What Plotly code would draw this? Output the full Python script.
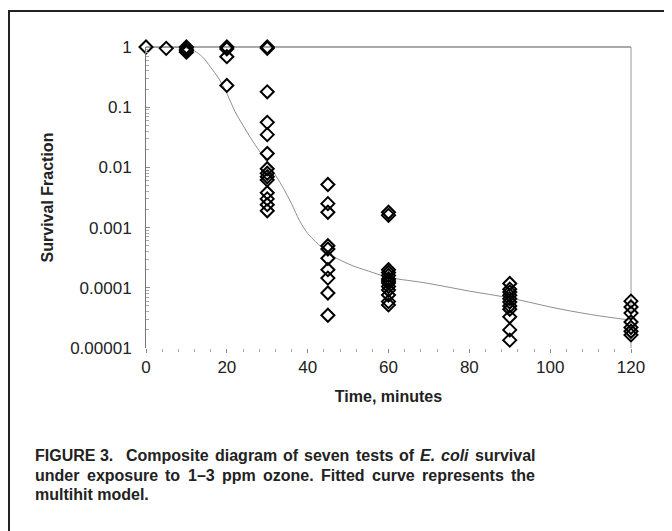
import plotly.graph_objects as go

# ---- data ----
t0 = [1.0]
t5 = [0.95]
t10 = [1.0, 0.92, 0.87, 0.82]
t20 = [1.0, 0.93, 0.69, 0.23]
t30 = [1.0, 0.95, 0.18, 0.056, 0.035, 0.017, 0.0095, 0.008, 0.007, 0.0062,
       0.0038, 0.003, 0.0024, 0.0019]
t45 = [0.0052, 0.0025, 0.0018, 0.0005, 0.00044, 0.00031, 0.0002, 0.000145,
       8.2e-5, 3.5e-5]
t60 = [0.0018, 0.0016, 0.0002, 0.00018, 0.00016, 0.00014, 0.00013, 0.00012,
       0.000105, 9.2e-5, 7.6e-5, 5.9e-5, 5.2e-5]
t90 = [0.000118, 9.5e-5, 8.5e-5, 7.5e-5, 6.6e-5, 5.8e-5, 5e-5, 4.4e-5,
       3.3e-5, 2e-5, 1.35e-5]
t120 = [6e-5, 4.8e-5, 3.8e-5, 2.7e-5, 2.2e-5, 1.9e-5, 1.65e-5]
groups = {0: t0, 5: t5, 10: t10, 20: t20, 30: t30, 45: t45, 60: t60,
          90: t90, 120: t120}

curve_t = [0, 8, 10, 12, 14, 16, 18, 20, 22, 24, 26, 28, 30, 32, 34, 36, 38,
           40, 42, 45, 50, 55, 60, 70, 80, 90, 100, 110, 120]
curve_s = [1.0, 0.99, 0.96, 0.86, 0.68, 0.46, 0.3, 0.17, 0.085, 0.05, 0.03,
           0.019, 0.012, 0.0075, 0.0045, 0.0025, 0.0013, 0.0008, 0.00058,
           0.00038, 0.00025, 0.00019, 0.00015, 0.000118, 8.8e-5, 6.8e-5,
           4.8e-5, 3.6e-5, 2.9e-5]

y_tickvals = [1, 0.1, 0.01, 0.001, 0.0001, 0.00001]
y_ticktext = ["1", "0.1", "0.01", "0.001", "0.0001", "0.00001"]
x_tickvals = [0, 20, 40, 60, 80, 100, 120]

caption_line1 = ["FIGURE 3.", "Composite", "diagram", "of", "seven", "tests",
                 "of", "<i>E.</i>", "<i>coli</i>", "survival"]
caption_line2 = ["under", "exposure", "to", "1–3", "ppm", "ozone.", "Fitted",
                 "curve", "represents", "the"]
caption_line3 = "multihit model."

xs, ys = [], []
for t, vals in groups.items():
    for v in vals:
        xs.append(t)
        ys.append(v)

# ---- layout geometry (page pixels; page body has an 8px offset) ----
OFF = 8
W, H = 672 - OFF, 531 - OFF
L, R, T, B = 146 - OFF, 631 - OFF, 47 - OFF, 348 - OFF


def px(x):
    return (x - OFF - L) / (R - L)


def py(y):
    return (B - (y - OFF)) / (B - T)


FONT = "Liberation Sans, Arial, sans-serif"

# Arial Bold advance widths (per 1000 em) for caption justification
AW = {' ': 278, '.': 278, ',': 278, '–': 556}
for ch in "0123456789":
    AW[ch] = 556
AW.update(dict(a=556, b=611, c=556, d=611, e=556, f=333, g=611, h=611, i=278,
               j=278, k=556, l=278, m=889, n=611, o=611, p=611, q=611, r=389,
               s=556, t=333, u=611, v=556, w=778, x=556, y=556, z=500))
AW.update({'F': 611, 'I': 278, 'G': 778, 'U': 722, 'R': 722, 'E': 667,
           'C': 722, 'T': 611})

CAP_SIZE = 16


def text_w(s):
    s = s.replace("<i>", "").replace("</i>", "")
    return sum(AW.get(c, 556) for c in s) * CAP_SIZE / 1000.0


def justify(words, left, right, first_gap_weight=1.0):
    widths = [text_w(w) for w in words]
    free = (right - left) - sum(widths)
    weights = [first_gap_weight] + [1.0] * (len(words) - 2)
    unit = free / sum(weights)
    pos = []
    x = left
    for i, w in enumerate(widths):
        pos.append(x)
        if i < len(weights):
            x += w + unit * weights[i]
    return pos


fig = go.Figure()
fig.add_trace(go.Scatter(x=curve_t, y=curve_s, mode="lines",
                         line=dict(color="#8f8f8f", width=1, shape="spline"),
                         hoverinfo="skip", showlegend=False))
fig.add_trace(go.Scatter(x=xs, y=ys, mode="markers", cliponaxis=False,
                         marker=dict(symbol="diamond-open", size=10,
                                     color="black", line=dict(width=2, color="black")),
                         showlegend=False))

fig.update_layout(
    width=W, height=H,
    margin=dict(l=L, r=W - R, t=T, b=H - B),
    paper_bgcolor="white", plot_bgcolor="white",
    font=dict(family=FONT, color="#222", size=17),
    xaxis=dict(range=[0, 120], tickvals=x_tickvals, ticks="outside", ticklen=4,
               tickcolor="#888", showline=False, showgrid=False, zeroline=False,
               tickfont=dict(size=17, color="#222"),
               minor=dict(ticks="outside", ticklen=3, dtick=4, tickcolor="#aaa",
                          showgrid=False),
               title=dict(text="<b>Time, minutes</b>", font=dict(size=16),
                          standoff=14)),
    yaxis=dict(type="log", range=[-5, 0], tickvals=y_tickvals, ticktext=y_ticktext,
               ticks="inside", ticklen=4, tickcolor="#888", showline=True,
               linecolor="#777", linewidth=1, showgrid=False, zeroline=False,
               ticklabelstandoff=10,
               tickfont=dict(size=17, color="#222"),
               minor=dict(ticks="inside", ticklen=3, dtick="D1", tickcolor="#aaa",
                          showgrid=False),
               title=dict(text="<b>Survival Fraction</b>", font=dict(size=16),
                          standoff=12)),
)

# plot frame top and right
fig.add_shape(type="line", xref="paper", yref="paper", x0=0, x1=1, y0=1, y1=1,
              line=dict(color="#555", width=1), layer="below")
fig.add_shape(type="line", xref="paper", yref="paper", x0=1, x1=1, y0=0, y1=1,
              line=dict(color="#999", width=1), layer="below")
# outer figure border (left and top)
fig.add_shape(type="line", xref="paper", yref="paper", x0=px(9), x1=px(9),
              y0=py(10), y1=py(540), line=dict(color="#222", width=2))
fig.add_shape(type="line", xref="paper", yref="paper", x0=px(8), x1=px(680),
              y0=py(11), y1=py(11), line=dict(color="#222", width=2))

cap_font = dict(family=FONT, size=CAP_SIZE, color="#222")
for words, ycap, w1 in ((caption_line1, 455, 2.2), (caption_line2, 475, 1.0)):
    for w, xw in zip(words, justify(words, 33, 533, w1)):
        fig.add_annotation(xref="paper", yref="paper", x=px(xw), y=py(ycap),
                           xanchor="left", yanchor="middle", showarrow=False,
                           font=cap_font, text="<b>" + w + "</b>")
fig.add_annotation(xref="paper", yref="paper", x=px(33), y=py(494),
                   xanchor="left", yanchor="middle", showarrow=False, font=cap_font,
                   text="<b>" + caption_line3 + "</b>")

fig.write_html("out.html")
